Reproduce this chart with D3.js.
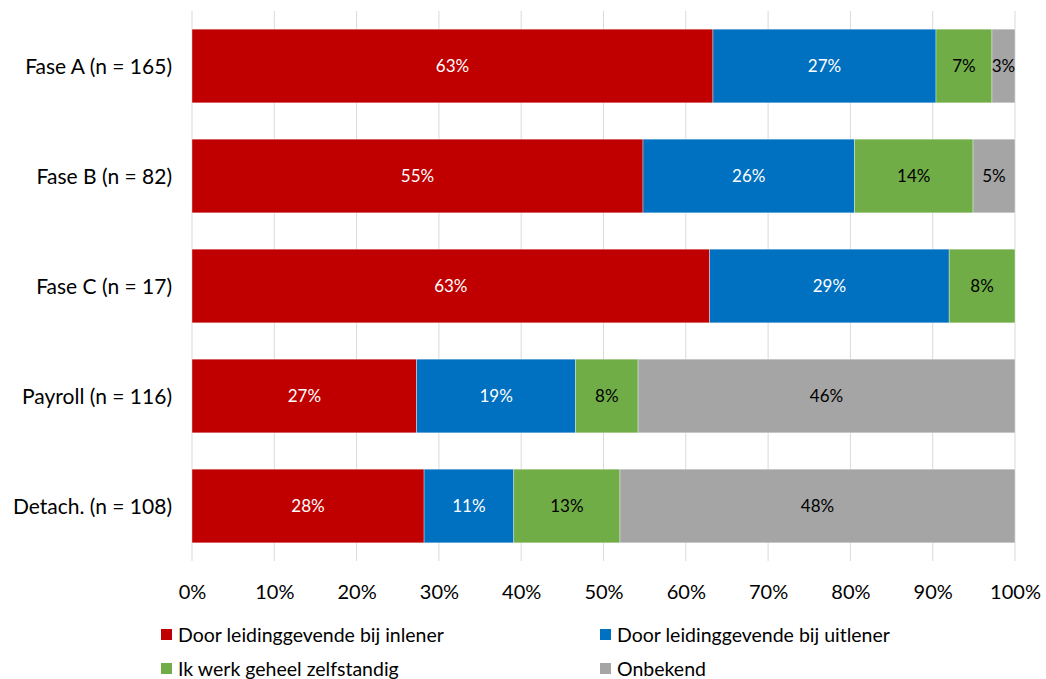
<!DOCTYPE html>
<html>
<head>
<meta charset="utf-8">
<script src="https://cdn.jsdelivr.net/npm/d3@7/dist/d3.min.js"></script>
<style>
  html, body { margin: 0; padding: 0; background: #fff; }
  svg { display: block; }
  text { font-family: Lato, "Open Sans", sans-serif; }
</style>
</head>
<body>
<svg id="chart" width="1046" height="679"></svg>
<script>
// Groups (top to bottom)
const categories = ["Fase A (n = 165)", "Fase B (n = 82)", "Fase C (n = 17)", "Payroll (n = 116)", "Detach. (n = 108)"];

// Series: share of respondents per group (%)
const seriesNames = [
  "Door leidinggevende bij inlener",
  "Door leidinggevende bij uitlener",
  "Ik werk geheel zelfstandig",
  "Onbekend"
];
const inlener     = [63.3, 54.8, 62.9, 27.3, 28.2];
const uitlener    = [27.1, 25.7, 29.1, 19.3, 10.9];
const zelfstandig = [6.8, 14.4, 8.0, 7.6, 12.9];
const onbekend    = [2.8, 5.1, 0, 45.8, 48.0];

const xTicks = [0, 10, 20, 30, 40, 50, 60, 70, 80, 90, 100];

const colors = ["#C00000", "#0070C0", "#70AD47", "#A5A5A5"];
const labelColors = ["#ffffff", "#ffffff", "#000000", "#000000"];

const rows = categories.map((c, i) => ({
  cat: c,
  [seriesNames[0]]: inlener[i],
  [seriesNames[1]]: uitlener[i],
  [seriesNames[2]]: zelfstandig[i],
  [seriesNames[3]]: onbekend[i]
}));

const svg = d3.select("#chart");
const margin = { left: 192, right: 31, top: 11, bottom: 118 };
const W = 1046, H = 679;

const x = d3.scaleLinear().domain([0, 100]).range([margin.left, W - margin.right]);
const y = d3.scaleBand().domain(categories).range([margin.top, H - margin.bottom]).paddingInner(0.33).paddingOuter(0.165);

// vertical gridlines
svg.append("g")
  .selectAll("line")
  .data(xTicks)
  .join("line")
  .attr("x1", d => x(d)).attr("x2", d => x(d))
  .attr("y1", margin.top).attr("y2", H - margin.bottom)
  .attr("stroke", "#d9d9d9").attr("stroke-width", 1);

const stack = d3.stack().keys(seriesNames)(rows);

const layers = svg.append("g").selectAll("g")
  .data(stack)
  .join("g")
  .attr("fill", (d, i) => colors[i]);

layers.selectAll("rect")
  .data(d => d.filter(s => s[1] - s[0] > 0))
  .join("rect")
  .attr("x", d => x(d[0]))
  .attr("width", d => x(d[1]) - x(d[0]))
  .attr("y", d => y(d.data.cat))
  .attr("height", y.bandwidth())
  .attr("stroke", "rgba(255,255,255,0.6)")
  .attr("stroke-width", 0.6);

// value labels in each segment
stack.forEach((layer, li) => {
  svg.append("g").selectAll("text")
    .data(layer.filter(s => s[1] - s[0] > 0))
    .join("text")
    .attr("x", d => (x(d[0]) + x(d[1])) / 2)
    .attr("y", d => y(d.data.cat) + y.bandwidth() / 2)
    .attr("dy", "0.36em")
    .attr("text-anchor", "middle")
    .attr("font-size", 17)
    .attr("fill", labelColors[li])
    .text(d => Math.round(d[1] - d[0]) + "%");
});

// category axis labels
svg.append("g").selectAll("text")
  .data(categories)
  .join("text")
  .attr("x", margin.left - 20)
  .attr("y", d => y(d) + y.bandwidth() / 2)
  .attr("dy", "0.36em")
  .attr("text-anchor", "end")
  .attr("font-size", 21)
  .attr("fill", "#000")
  .text(d => d);

// percentage axis
const xAxis = d3.axisBottom(x).tickValues(xTicks).tickFormat(d => d + "%").tickSize(0).tickPadding(0);
const axisG = svg.append("g").attr("transform", `translate(0,${H - margin.bottom})`).call(xAxis);
axisG.select(".domain").remove();
axisG.selectAll("text")
  .attr("y", 38)
  .attr("dy", 0)
  .attr("font-size", 20)
  .attr("fill", "#000")
  .style("font-family", "Lato, 'Open Sans', sans-serif");

// legend
const legendPos = [[161, 635], [600, 635], [161, 669], [600, 669]];
const legend = svg.append("g").selectAll("g")
  .data(seriesNames)
  .join("g")
  .attr("transform", (d, i) => `translate(${legendPos[i][0]},${legendPos[i][1]})`);
legend.append("rect")
  .attr("x", 0).attr("y", -6).attr("width", 11).attr("height", 11)
  .attr("fill", (d, i) => colors[i]);
legend.append("text")
  .attr("x", 17).attr("y", 0).attr("dy", "0.36em")
  .attr("font-size", 19.5)
  .attr("fill", "#000")
  .text(d => d);
</script>
</body>
</html>
